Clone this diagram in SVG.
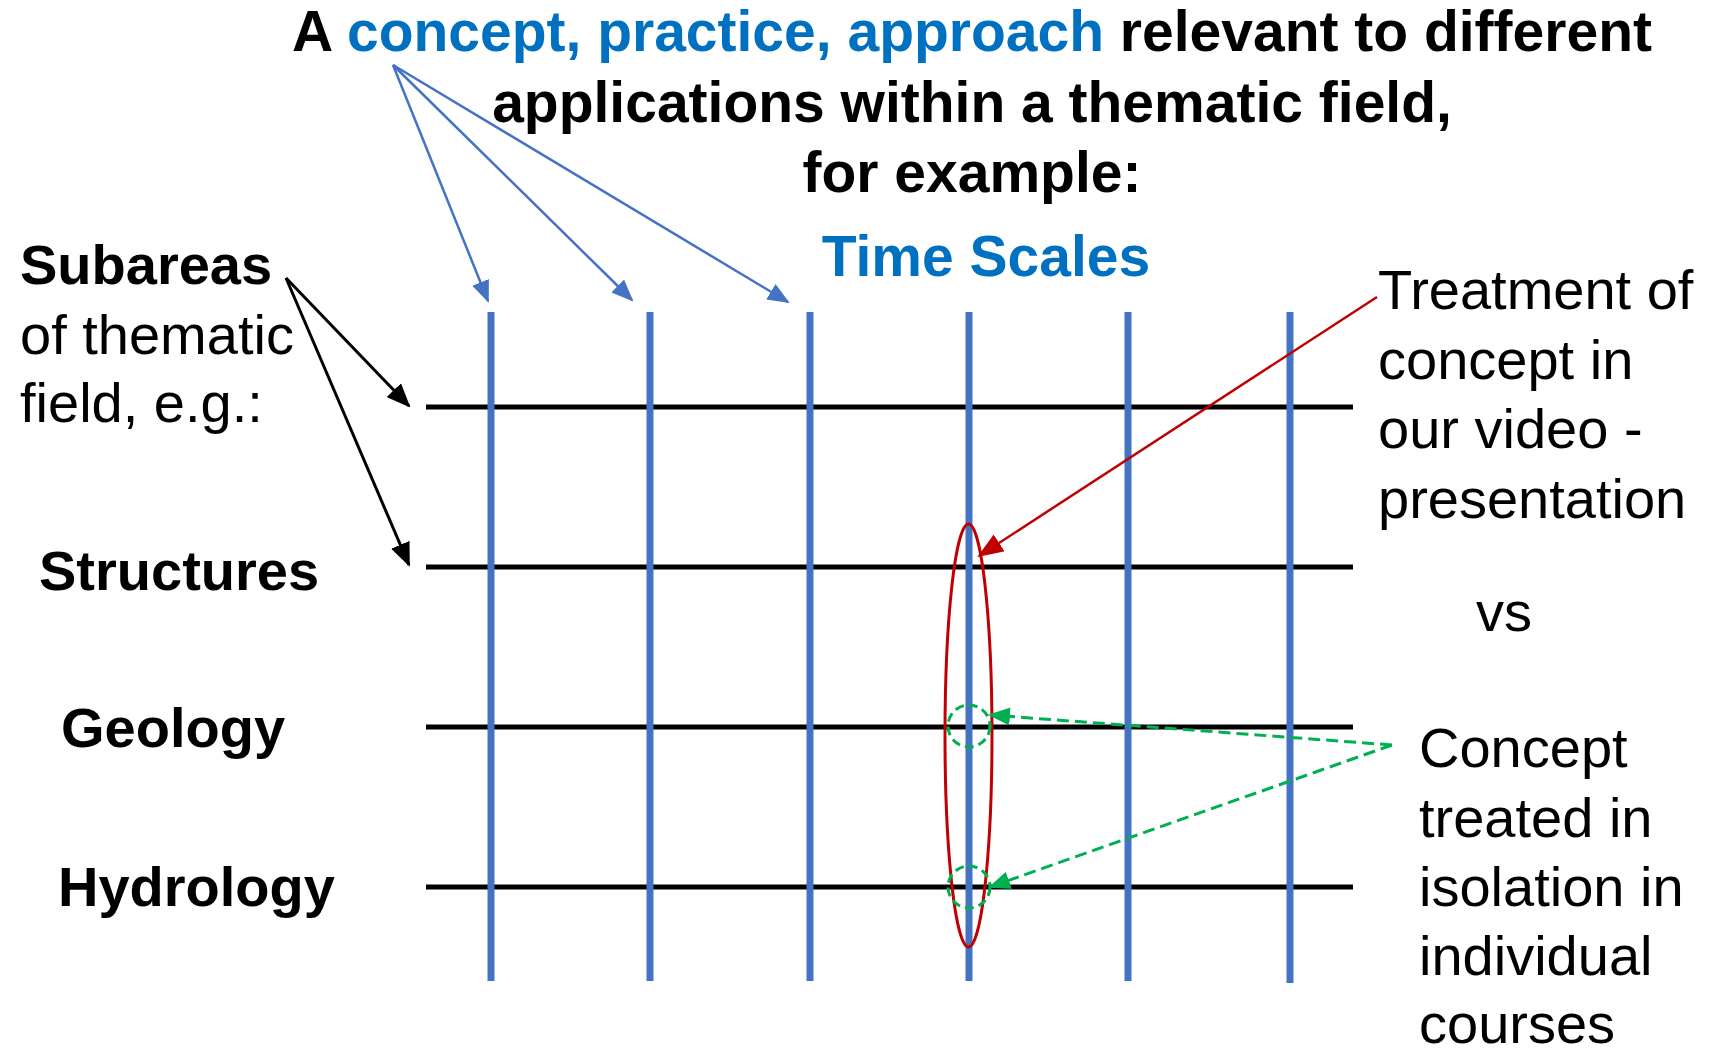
<svg xmlns="http://www.w3.org/2000/svg" width="1711" height="1052" viewBox="0 0 1711 1052">
<style>
text{font-family:"Liberation Sans",Arial,sans-serif;font-size:56px;fill:#000}
.b{font-weight:bold}
.t{font-size:57px}
.blue{fill:#0070C0}
.vl{stroke:#4472C4;stroke-width:7}
.hl{stroke:#000;stroke-width:5}
</style>
<defs>
<marker id="ab" markerUnits="userSpaceOnUse" markerWidth="22" markerHeight="18" refX="20" refY="9" orient="auto"><path d="M0,0 L22,9 L0,18 z" fill="#4472C4"/></marker>
<marker id="ak" markerUnits="userSpaceOnUse" markerWidth="24" markerHeight="20" refX="22" refY="10" orient="auto"><path d="M0,0 L24,10 L0,20 z" fill="#000"/></marker>
<marker id="ar" markerUnits="userSpaceOnUse" markerWidth="26" markerHeight="20" refX="24" refY="10" orient="auto"><path d="M0,0 L26,10 L0,20 z" fill="#C00000"/></marker>
<marker id="ag" markerUnits="userSpaceOnUse" markerWidth="22" markerHeight="18" refX="20" refY="9" orient="auto"><path d="M0,0 L22,9 L0,18 z" fill="#00B050"/></marker>
</defs>
<g id="title">
<text class="b t" x="972" y="51" text-anchor="middle">A <tspan class="blue">concept, practice, approach</tspan> relevant to different</text>
<text class="b t" x="972" y="122" text-anchor="middle">applications within a thematic field,</text>
<text class="b t" x="972" y="192" text-anchor="middle">for example:</text>
<text class="b t blue" x="986" y="276" text-anchor="middle">Time Scales</text>
</g>
<g id="grid">
<line class="hl" x1="426" y1="407" x2="1353" y2="407"/>
<line class="hl" x1="426" y1="567" x2="1353" y2="567"/>
<line class="hl" x1="426" y1="727" x2="1353" y2="727"/>
<line class="hl" x1="426" y1="887" x2="1353" y2="887"/>
<line class="vl" x1="491" y1="312" x2="491" y2="981"/>
<line class="vl" x1="650" y1="312" x2="650" y2="981"/>
<line class="vl" x1="810" y1="312" x2="810" y2="981"/>
<line class="vl" x1="969" y1="312" x2="969" y2="981"/>
<line class="vl" x1="1128" y1="312" x2="1128" y2="981"/>
<line class="vl" x1="1290" y1="312" x2="1290" y2="983"/>
</g>
<g id="subareas">
<text class="b" x="20" y="284">Subareas</text>
<text x="20" y="354">of thematic</text>
<text x="20" y="422">field, e.g.:</text>
</g>
<g id="structures"><text class="b" x="39" y="590">Structures</text></g>
<g id="geology"><text class="b" x="61" y="747">Geology</text></g>
<g id="hydrology"><text class="b" x="58" y="906">Hydrology</text></g>
<g id="treatment">
<text x="1378" y="309">Treatment of</text>
<text x="1378" y="379">concept in</text>
<text x="1378" y="448">our video -</text>
<text x="1378" y="518">presentation</text>
</g>
<g id="vs"><text x="1476" y="631">vs</text></g>
<g id="isolation">
<text x="1419" y="767">Concept</text>
<text x="1419" y="837">treated in</text>
<text x="1419" y="906">isolation in</text>
<text x="1419" y="975">individual</text>
<text x="1419" y="1043">courses</text>
</g>
<g id="highlights">
<ellipse cx="968.5" cy="735.5" rx="23.5" ry="211.5" fill="none" stroke="#C00000" stroke-width="3"/>
<circle cx="969" cy="726" r="21" fill="none" stroke="#00B050" stroke-width="3" stroke-dasharray="9,5"/>
<circle cx="969" cy="887" r="21" fill="none" stroke="#00B050" stroke-width="3" stroke-dasharray="9,5"/>
</g>
<g id="connectors" fill="none">
<line x1="393" y1="65" x2="488" y2="301" stroke="#4472C4" stroke-width="2.5" marker-end="url(#ab)"/>
<line x1="393" y1="65" x2="632" y2="300" stroke="#4472C4" stroke-width="2.5" marker-end="url(#ab)"/>
<line x1="393" y1="65" x2="788" y2="302" stroke="#4472C4" stroke-width="2.5" marker-end="url(#ab)"/>
<line x1="286" y1="278" x2="409" y2="406" stroke="#000" stroke-width="3" marker-end="url(#ak)"/>
<line x1="286" y1="278" x2="409" y2="565" stroke="#000" stroke-width="3" marker-end="url(#ak)"/>
<line x1="1377" y1="297" x2="979" y2="556" stroke="#C00000" stroke-width="2.5" marker-end="url(#ar)"/>
<line x1="1392" y1="745" x2="990" y2="715" stroke="#00B050" stroke-width="3" stroke-dasharray="12,6" marker-end="url(#ag)"/>
<line x1="1392" y1="745" x2="990" y2="887" stroke="#00B050" stroke-width="3" stroke-dasharray="12,6" marker-end="url(#ag)"/>
</g>
</svg>
